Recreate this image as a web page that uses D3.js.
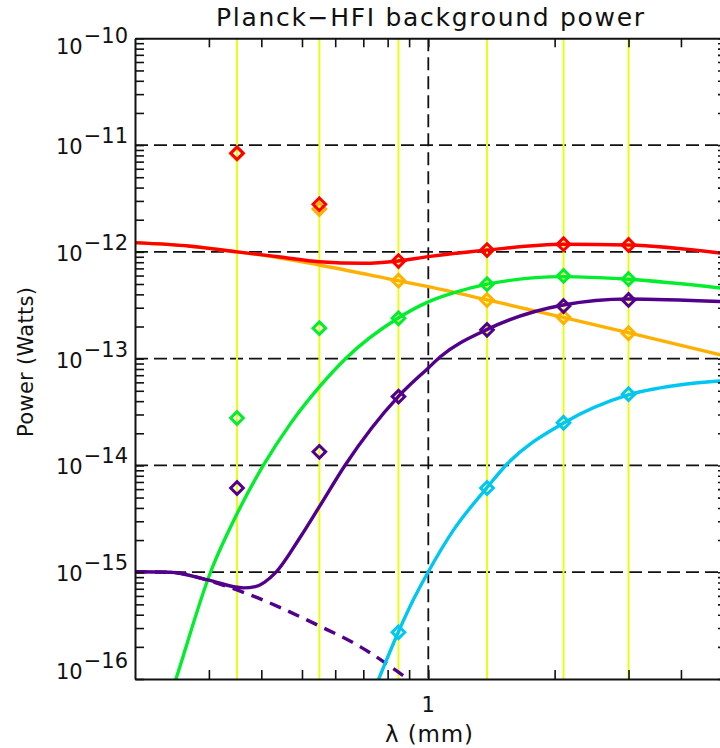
<!DOCTYPE html>
<html>
<head>
<meta charset="utf-8">
<script src="https://cdn.jsdelivr.net/npm/d3@7/dist/d3.min.js"></script>
<style>
  html, body { margin: 0; padding: 0; background: #fff; }
  svg { display: block; }
  text { font-family: "DejaVu Sans", sans-serif; fill: #111; }
</style>
</head>
<body>
<svg id="chart" width="720" height="748"></svg>
<script>
// ---------------- DATA ----------------
const titleText = "Planck\u2212HFI background power";
const xLabel = "\u03bb (mm)";
const yLabel = "Power (Watts)";

const xDomain = [0.2, 5.15];
const yDomain = [1e-16, 1e-10];
const xTickLabels = [1];
const xMinorTicks = [0.3, 0.4, 0.5, 0.6, 0.7, 0.8, 0.9, 1, 2, 3, 4, 5];
const yDecades = [-16, -15, -14, -13, -12, -11, -10];
const gridDecades = [-15, -14, -13, -12, -11];
const xGrid = [1];

// Planck HFI bands (857, 545, 353, 217, 143, 100 GHz)
const bandWavelengths = [0.350, 0.550, 0.849, 1.38, 2.10, 3.00];
const bandTotal  = [8.4e-12, 2.79e-12, 8.2e-13, 1.04e-12, 1.18e-12, 1.16e-12];
const bandOrange = [8.3e-12, 2.52e-12, 5.37e-13, 3.54e-13, 2.44e-13, 1.73e-13];
const bandGreen  = [2.78e-14, 1.93e-13, 2.39e-13, 4.98e-13, 5.95e-13, 5.57e-13];
const bandPurple = [6.15e-15, 1.34e-14, 4.41e-14, 1.86e-13, 3.11e-13, 3.55e-13];
const bandCyan   = [null, null, 2.74e-16, 6.15e-15, 2.51e-14, 4.65e-14];

// continuous curves
const totalLambda = [0.20, 0.271, 0.350, 0.444, 0.550, 0.700, 0.848, 1.0, 1.382, 2.096, 2.994, 5.2];
const totalPower  = [1.22e-12, 1.13e-12, 1.00e-12, 8.95e-13, 8.09e-13, 7.82e-13, 8.22e-13, 9.02e-13, 1.04e-12, 1.18e-12, 1.16e-12, 9.55e-13];

const orangeLambda = [0.20, 0.271, 0.350, 0.444, 0.550, 0.848, 1.0, 1.382, 2.096, 2.994, 5.2];
const orangePower  = [1.22e-12, 1.13e-12, 1.0e-12, 8.77e-13, 7.53e-13, 5.37e-13, 4.72e-13, 3.55e-13, 2.44e-13, 1.75e-13, 1.04e-13];

const greenLambda = [0.24, 0.25, 0.303, 0.350, 0.405, 0.469, 0.550, 0.634, 0.848, 1.0, 1.147, 1.382, 2.096, 2.994, 5.2];
const greenPower  = [6.0e-17, 9.8e-17, 1.01e-15, 3.52e-15, 1.01e-14, 2.45e-14, 5.43e-14, 9.93e-14, 2.40e-13, 3.40e-13, 4.12e-13, 4.98e-13, 5.86e-13, 5.54e-13, 4.50e-13];

const purpleLambda = [0.20, 0.243, 0.298, 0.363, 0.387, 0.432, 0.496, 0.550, 0.634, 0.848, 1.0, 1.068, 1.382, 2.096, 2.994, 5.2];
const purplePower  = [1.01e-15, 1.0e-15, 8.47e-16, 7.13e-16, 7.33e-16, 9.86e-16, 2.15e-15, 4.11e-15, 1.01e-14, 4.41e-14, 8.18e-14, 1.04e-13, 1.88e-13, 3.18e-13, 3.62e-13, 3.40e-13];

const purpleDashLambda = [0.20, 0.243, 0.298, 0.350, 0.550, 0.689, 0.797, 0.882, 0.95];
const purpleDashPower  = [1.01e-15, 1.0e-15, 8.4e-16, 6.82e-16, 3.14e-16, 2.0e-16, 1.38e-16, 1.04e-16, 8.5e-17];

const cyanLambda = [0.74, 0.760, 0.848, 0.921, 1.0, 1.149, 1.382, 1.533, 2.096, 2.994, 4.13, 5.2];
const cyanPower  = [7.6e-17, 9.8e-17, 2.74e-16, 5.51e-16, 1.01e-15, 2.49e-15, 6.25e-15, 1.01e-14, 2.48e-14, 4.57e-14, 5.79e-14, 6.25e-14];

const colors = {
  red: "#ff0000",
  orange: "#ffb000",
  green: "#00ee2c",
  purple: "#52008c",
  cyan: "#00c6f2",
  yellow: "#e6ff14"
};

// ---------------- CHART ----------------
const svg = d3.select("#chart");
const L = 135, R = 727, T = 38.3, B = 679;

const x = d3.scaleLog().domain(xDomain).range([L, R]);
const y = d3.scaleLog().domain(yDomain).range([B, T]);

svg.append("defs").append("clipPath").attr("id", "clip")
  .append("rect").attr("x", L).attr("y", T).attr("width", R - L).attr("height", B - T);

// dashed grid
const grid = svg.append("g").attr("stroke", "#111").attr("stroke-width", 1.8)
  .attr("stroke-dasharray", "13,6").attr("fill", "none");
grid.selectAll("line.h").data(gridDecades).join("line")
  .attr("x1", L).attr("x2", R)
  .attr("y1", d => y(Math.pow(10, d))).attr("y2", d => y(Math.pow(10, d)));
grid.selectAll("line.v").data(xGrid).join("line")
  .attr("x1", d => x(d)).attr("x2", d => x(d)).attr("y1", T).attr("y2", B);

// band lines
svg.append("g").selectAll("line").data(bandWavelengths).join("line")
  .attr("x1", d => x(d)).attr("x2", d => x(d)).attr("y1", T).attr("y2", B)
  .attr("stroke", colors.yellow).attr("stroke-width", 2);

// curves
const line = d3.line().x(d => x(d[0])).y(d => y(d[1])).curve(d3.curveMonotoneX);
const plot = svg.append("g").attr("clip-path", "url(#clip)");
function curve(lams, pows, color, dash) {
  plot.append("path").datum(lams.map((l, i) => [l, pows[i]]))
    .attr("d", line).attr("fill", "none").attr("stroke", color)
    .attr("stroke-width", 3.4).attr("stroke-linejoin", "round")
    .attr("stroke-dasharray", dash || null);
}
curve(orangeLambda, orangePower, colors.orange);
curve(greenLambda, greenPower, colors.green);
curve(purpleDashLambda, purpleDashPower, colors.purple, "12,8");
curve(purpleLambda, purplePower, colors.purple);
curve(cyanLambda, cyanPower, colors.cyan);
curve(totalLambda, totalPower, colors.red);

// diamonds
function diamonds(vals, color) {
  const pts = bandWavelengths.map((l, i) => [l, vals[i]]).filter(d => d[1] != null);
  const r = 6.3;
  plot.append("g").selectAll("path").data(pts).join("path")
    .attr("d", d => {
      const cx = x(d[0]), cy = y(d[1]);
      return `M${cx},${cy - r}L${cx + r},${cy}L${cx},${cy + r}L${cx - r},${cy}Z`;
    })
    .attr("fill", "none").attr("stroke", color).attr("stroke-width", 3);
}
diamonds(bandOrange, colors.orange);
diamonds(bandGreen, colors.green);
diamonds(bandPurple, colors.purple);
diamonds(bandCyan, colors.cyan);
diamonds(bandTotal, colors.red);

// axes
const yTicks = [];
yDecades.forEach(e => { if (e < -10) for (let k = 1; k <= 9; k++) yTicks.push(k * Math.pow(10, e)); });
yTicks.push(1e-10);

function styleAxis(g) {
  g.select(".domain").attr("stroke", "#111").attr("stroke-width", 2);
  g.selectAll(".tick line").attr("stroke", "#111").attr("stroke-width", 1.6);
  g.selectAll(".tick text").remove();
}
svg.append("g").attr("transform", `translate(${L},0)`)
  .call(d3.axisRight(y).tickValues(yTicks).tickSize(9).tickSizeOuter(0).tickFormat(""))
  .call(styleAxis);
svg.append("g").attr("transform", `translate(${R},0)`)
  .call(d3.axisLeft(y).tickValues(yTicks).tickSize(9).tickSizeOuter(0).tickFormat(""))
  .call(styleAxis);
svg.append("g").attr("transform", `translate(0,${B})`)
  .call(d3.axisTop(x).tickValues(xMinorTicks).tickSize(9).tickSizeOuter(0).tickFormat(""))
  .call(styleAxis);
svg.append("g").attr("transform", `translate(0,${T})`)
  .call(d3.axisBottom(x).tickValues(xMinorTicks).tickSize(9).tickSizeOuter(0).tickFormat(""))
  .call(styleAxis);

// y tick labels
const yl = svg.append("g").attr("font-size", 21);
yDecades.forEach(e => {
  const ty = y(Math.pow(10, e));
  const base = Math.max(Math.min(ty + 9, B), T + 16);
  const t = yl.append("text").attr("x", 128).attr("y", base).attr("text-anchor", "end");
  t.append("tspan").text("10");
  t.append("tspan").attr("dy", -11).attr("dx", 1).text("\u2212" + Math.abs(e));
});

// x tick labels
svg.append("g").selectAll("text").data(xTickLabels).join("text")
  .attr("x", d => x(d)).attr("y", 712).attr("text-anchor", "middle")
  .attr("font-size", 21).text(d => d);

// titles
svg.append("text").attr("x", 430).attr("y", 26).attr("text-anchor", "middle")
  .attr("font-size", 25).attr("textLength", 428).text(titleText);
svg.append("text").attr("x", 429).attr("y", 742).attr("text-anchor", "middle")
  .attr("font-size", 23).attr("textLength", 88).text(xLabel);
svg.append("text").attr("transform", "translate(32.5,362) rotate(-90)")
  .attr("text-anchor", "middle").attr("font-size", 21).attr("textLength", 150).text(yLabel);
</script>
</body>
</html>
